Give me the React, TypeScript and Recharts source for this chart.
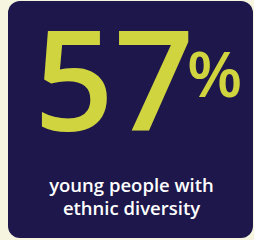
import { BarChart, Bar, XAxis, YAxis } from 'recharts';

const categories = ['card'];
const cardValues = [1];
const statValue = ['57'];
const statUnit = ['%'];
const captionLines = ['young people with', 'ethnic diversity'];

const NAVY = '#1e174b';
const LIME = '#d0d43f';
const CREAM = '#f6f5df';

const data = categories.map((name, i) => ({ name, value: cardValues[i] }));

// card drawn as the bar itself, with the stat text laid on top
function StatCard(props: any) {
  const { x, y, width, height } = props;
  return (
    <g fontFamily="'Open Sans', sans-serif">
      <rect x={x} y={y} width={width} height={height} rx={12} ry={12} fill={NAVY} />
      <text x={x + 26} y={y + 130} fill={LIME} fontSize={140} fontWeight={600}>
        {statValue[0]}
      </text>
      <text x={x + 179} y={y + 96} fill={LIME} fontSize={64} fontWeight={600}>
        {statUnit[0]}
      </text>
      {captionLines.map((line, i) => (
        <text
          key={line}
          x={x + width / 2 + 1}
          y={y + 191 + i * 23}
          fill="#ffffff"
          fontSize={18.5}
          fontWeight={600}
          textAnchor="middle"
        >
          {line}
        </text>
      ))}
    </g>
  );
}

export default function App() {
  return (
    <div style={{ position: 'fixed', inset: 0, background: CREAM }}>
      <BarChart
        width={254}
        height={240}
        data={data}
        margin={{ top: 1, right: 1, bottom: 2, left: 8 }}
        barCategoryGap={0}
      >
        <XAxis dataKey="name" hide />
        <YAxis hide domain={[0, 1]} />
        <Bar dataKey="value" shape={StatCard} isAnimationActive={false} />
      </BarChart>
    </div>
  );
}
